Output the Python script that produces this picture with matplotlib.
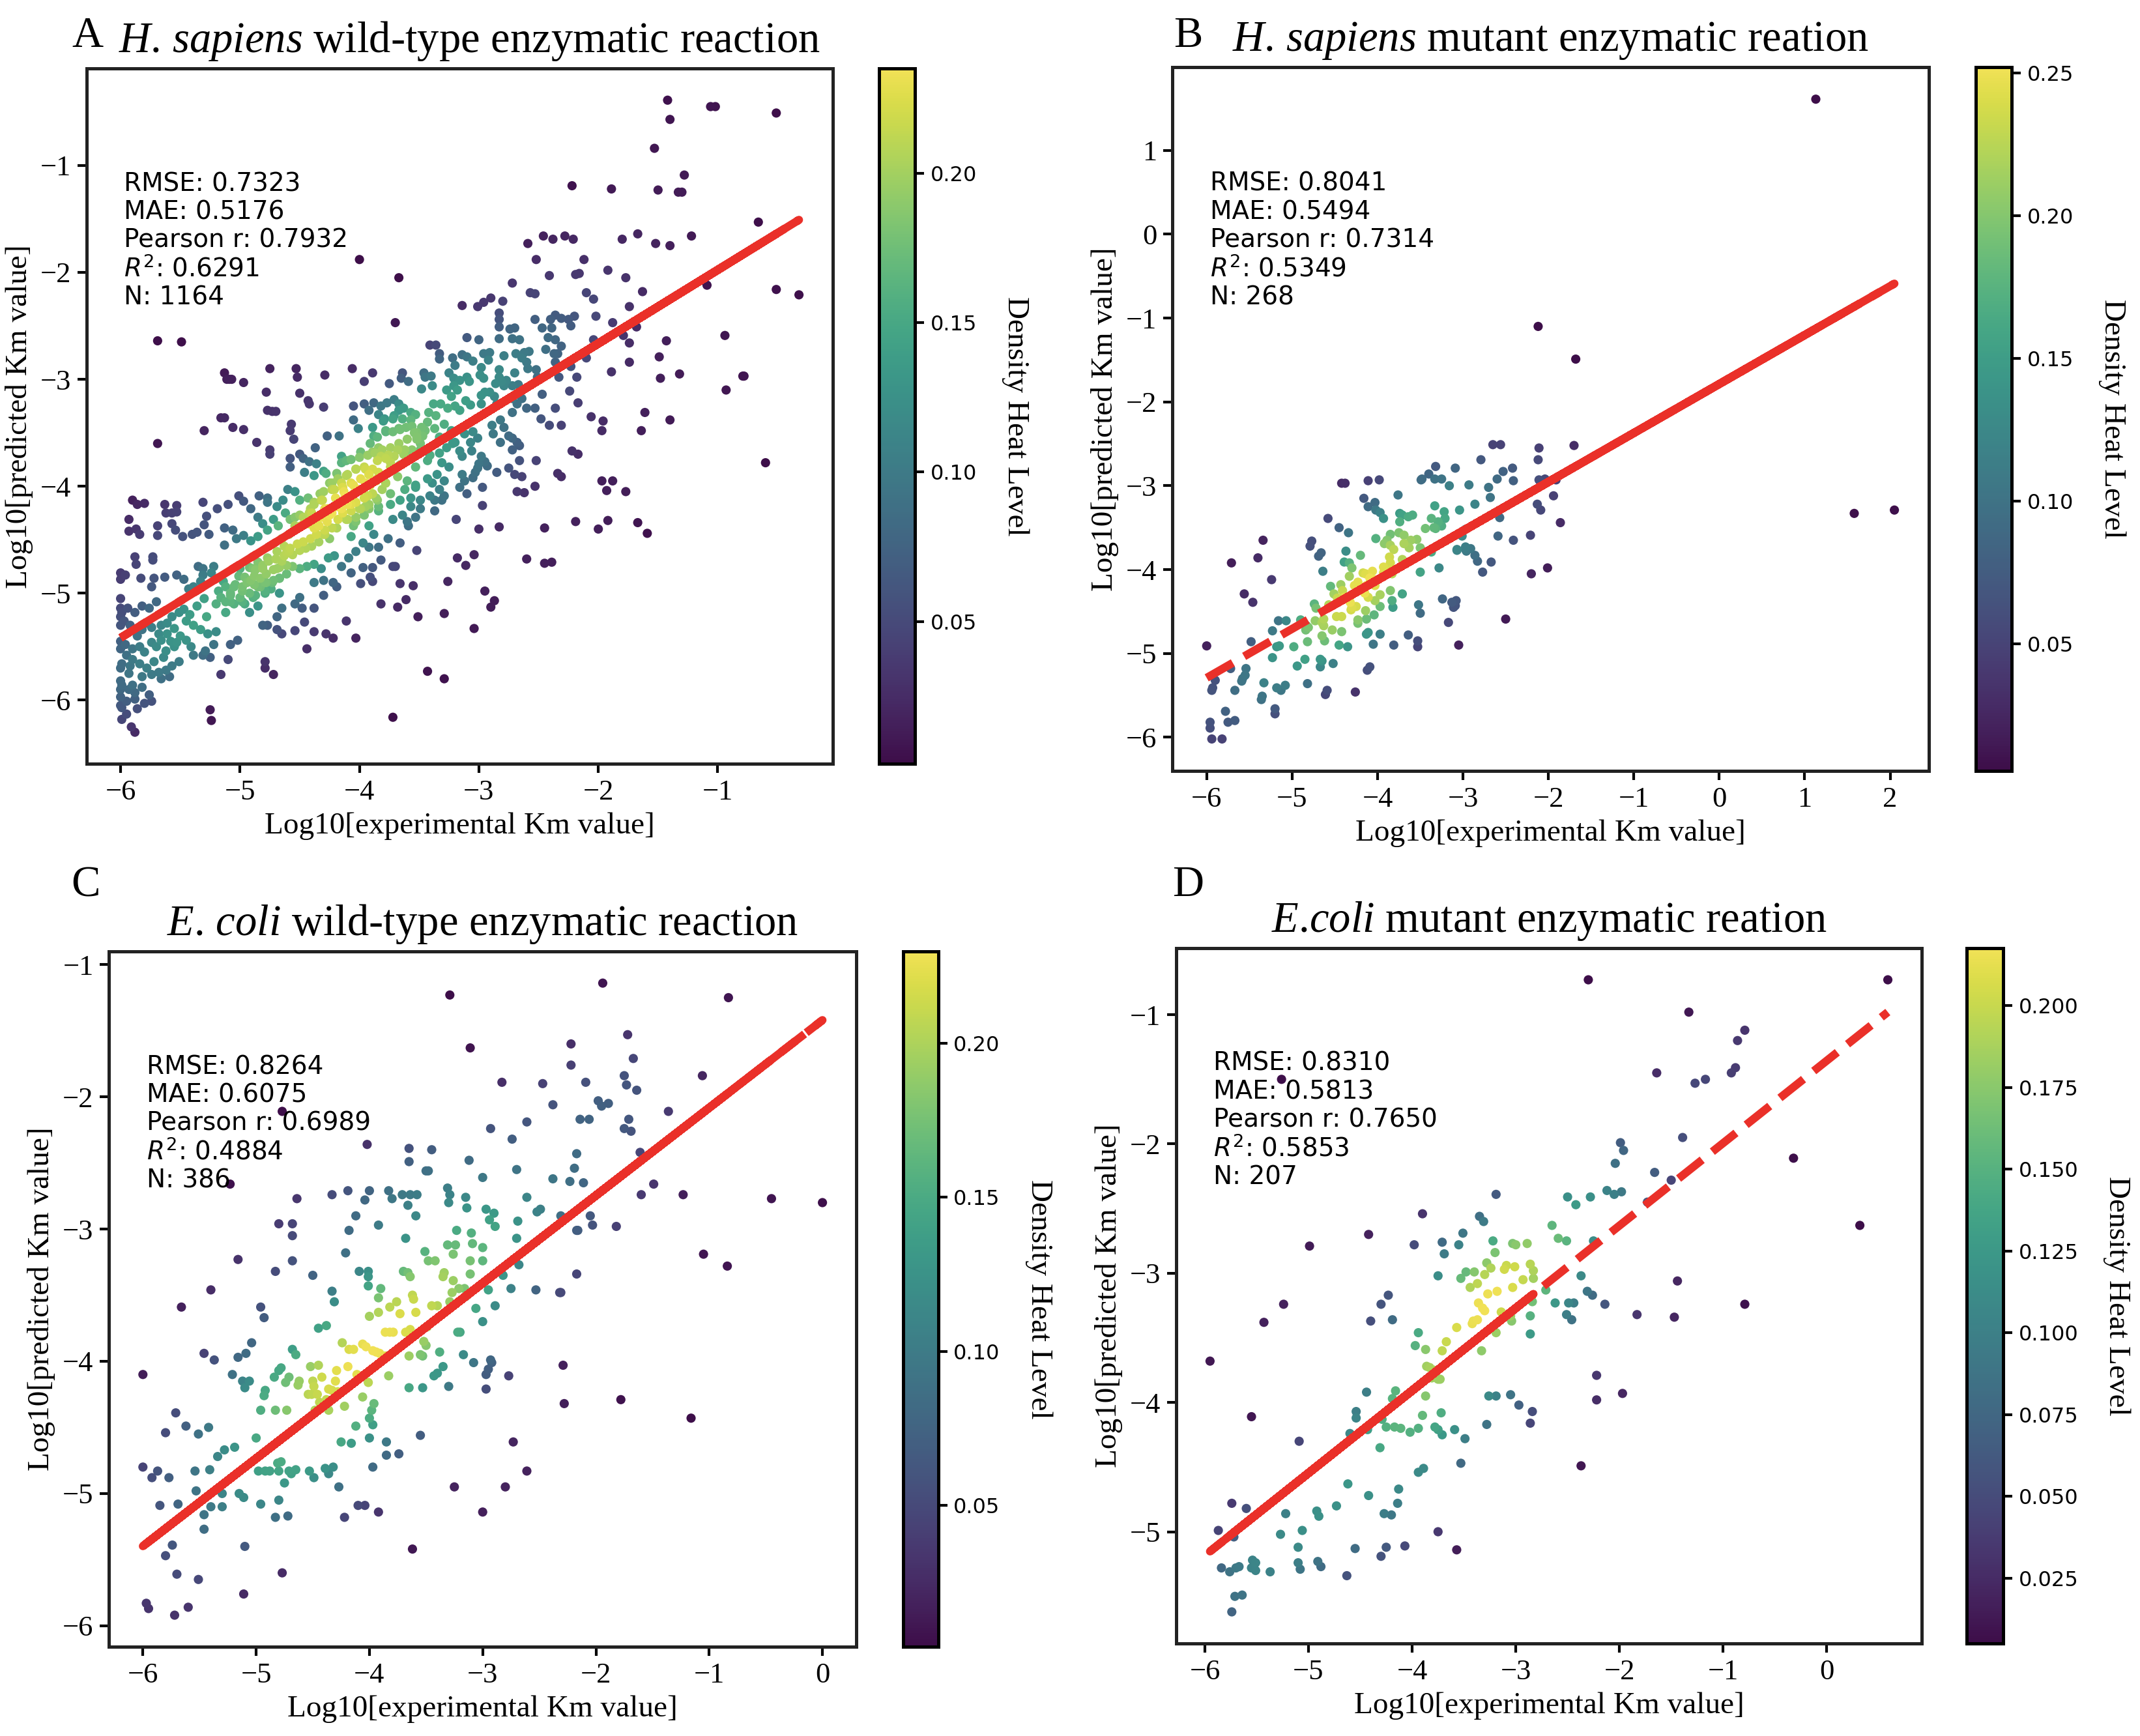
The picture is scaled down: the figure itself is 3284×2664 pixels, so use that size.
import numpy as np
import matplotlib
matplotlib.use("Agg")
import matplotlib.pyplot as plt
from matplotlib.colors import ListedColormap

# ---- data (log10 experimental Km, log10 predicted Km) ----
a_points = [
    (-1.42, -0.39), (-1.06, -0.45), (-1.02, -0.45), (-0.51, -0.51), (-1.40, -0.57), (-1.53, -0.84), (-1.28, -1.09),
    (-2.22, -1.19), (-1.89, -1.22), (-1.50, -1.23), (-1.33, -1.25), (-1.30, -1.25), (-0.66, -1.53), (-1.22, -1.66),
    (-1.67, -1.64), (-1.80, -1.69), (-1.52, -1.73), (-1.40, -1.75), (-2.59, -1.73), (-2.46, -1.66), (-2.38, -1.69),
    (-2.28, -1.66), (-2.21, -1.69), (-4.00, -1.88), (-0.51, -2.16), (-0.32, -2.21), (-0.79, -2.97), (-0.78, -2.97),
    (-0.60, -3.78),
    (-5.69, -2.64), (-5.49, -2.65), (-5.13, -2.94), (-5.11, -3.00), (-5.09, -3.00), (-5.07, -3.00), (-4.75, -2.90),
    (-4.53, -2.90), (-4.52, -2.98), (-4.29, -2.96), (-4.06, -2.90), (-4.97, -3.03), (-4.78, -3.12), (-4.50, -3.13),
    (-4.05, -3.25), (-4.30, -3.26), (-4.77, -3.29), (-4.73, -3.30), (-4.70, -3.30), (-4.43, -3.20), (-4.42, -3.23),
    (-5.16, -3.36), (-5.13, -3.36), (-5.06, -3.45), (-5.30, -3.48), (-5.69, -3.60), (-4.86, -3.59),
    (-4.97, -3.47), (-4.57, -3.42), (-4.58, -3.48), (-4.55, -3.56), (-4.05, -3.38), (-4.01, -3.46), (-4.27, -3.53),
    (-4.17, -3.53), (-3.89, -3.45), (-3.88, -3.53), (-3.80, -3.39), (-3.72, -3.37), (-3.64, -3.37), (-3.57, -3.38),
    (-3.78, -3.49), (-3.72, -3.49), (-3.66, -3.47), (-3.61, -3.45), (-3.54, -3.50), (-3.48, -3.45), (-3.43, -3.40),
    (-3.37, -3.46), (-3.29, -3.42), (-3.23, -3.48), (-3.52, -3.56), (-3.47, -3.53), (-3.33, -3.54),
    (-4.75, -3.66), (-4.75, -3.70), (-4.37, -3.64), (-4.50, -3.70), (-4.47, -3.74), (-4.58, -3.74), (-4.58, -3.82),
    (-4.42, -3.77), (-4.36, -3.79), (-4.30, -3.86), (-4.28, -3.88), (-4.46, -3.87), (-4.38, -3.90),
    (-4.15, -3.72), (-4.11, -3.76), (-3.99, -3.68), (-3.93, -3.71), (-3.87, -3.69), (-3.84, -3.64), (-4.15, -3.78),
    (-4.07, -3.75), (-4.00, -3.73), (-3.82, -3.72), (-3.76, -3.71), (-3.68, -3.66), (-3.62, -3.66), (-3.57, -3.69),
    (-3.49, -3.66), (-3.41, -3.71), (-3.33, -3.69), (-3.27, -3.64), (-3.22, -3.60),
    (-4.19, -3.88), (-4.11, -3.90), (-4.03, -3.84), (-3.95, -3.84), (-3.92, -3.89), (-3.84, -3.87), (-3.74, -3.82),
    (-3.66, -3.80), (-3.53, -3.82), (-3.43, -3.76), (-3.31, -3.78), (-3.25, -3.82),
    (-4.15, -3.97), (-4.05, -3.99), (-3.95, -3.97), (-3.86, -3.95), (-3.78, -3.97), (-3.68, -3.91), (-3.60, -3.95),
    (-3.53, -3.99), (-3.43, -3.93), (-3.35, -3.89), (-3.29, -3.95),
    (-3.62, -4.03), (-3.53, -4.01), (-3.39, -3.97), (-3.33, -4.03), (-3.41, -4.09), (-3.37, -4.13), (-3.29, -4.09),
    (-3.37, -4.23), (-3.31, -4.13),
    (-4.23, -4.03), (-4.13, -4.05), (-4.01, -4.03), (-3.93, -4.09), (-3.86, -4.11), (-3.74, -4.07), (-3.66, -4.13),
    (-3.57, -4.11), (-3.49, -4.13), (-3.84, -4.19), (-3.74, -4.17), (-3.95, -4.19), (-3.57, -4.19), (-3.49, -4.21),
    (-3.64, -4.27), (-3.53, -4.29), (-3.60, -4.33), (-3.72, -4.31), (-4.23, -3.97),
    (-5.90, -4.13), (-5.86, -4.17), (-5.80, -4.16), (-5.93, -4.31), (-5.93, -4.42), (-5.87, -4.40), (-5.84, -4.45),
    (-5.88, -4.66), (-5.87, -4.73), (-5.73, -4.66), (-5.73, -4.69),
    (-5.63, -4.17), (-5.53, -4.18), (-5.57, -4.25), (-5.53, -4.24), (-5.62, -4.25),
    (-5.69, -4.37), (-5.57, -4.35), (-5.54, -4.41), (-5.69, -4.46), (-5.48, -4.47), (-5.40, -4.45), (-5.36, -4.43),
    (-5.31, -4.15), (-5.19, -4.21), (-5.28, -4.28), (-5.30, -4.36), (-5.26, -4.45), (-5.13, -4.39), (-5.10, -4.17),
    (-5.01, -4.09), (-4.97, -4.14), (-4.91, -4.21), (-4.84, -4.09), (-4.77, -4.11), (-4.85, -4.29), (-4.77, -4.15),
    (-5.13, -4.55), (-5.06, -4.41), (-5.03, -4.49), (-4.97, -4.46), (-4.91, -4.51), (-4.85, -4.47), (-4.81, -4.35),
    (-4.77, -4.41), (-4.72, -4.31), (-4.68, -4.37),
    (-4.69, -4.19), (-4.64, -4.13), (-4.60, -4.03), (-4.54, -4.05), (-4.50, -4.13), (-4.43, -4.11), (-4.38, -4.15),
    (-4.33, -4.07), (-4.31, -4.13),
    (-4.62, -4.25), (-4.58, -4.31), (-4.54, -4.37), (-4.50, -4.27), (-4.46, -4.35), (-4.42, -4.25), (-4.38, -4.31),
    (-4.34, -4.37), (-4.31, -4.27), (-4.27, -4.21), (-4.23, -4.25), (-4.19, -4.17), (-4.15, -4.21), (-4.11, -4.13),
    (-4.07, -4.17),
    (-4.29, -4.45), (-4.25, -4.49), (-4.19, -4.39), (-4.11, -4.31), (-4.03, -4.33), (-3.96, -4.27), (-3.92, -4.21),
    (-3.84, -4.23), (-4.00, -4.21), (-4.07, -4.47), (-3.97, -4.53),
    (-4.05, -4.37), (-3.92, -4.37), (-3.88, -4.45), (-3.84, -4.57), (-3.92, -4.57), (-3.76, -4.49), (-3.66, -4.53),
    (-6.00, -4.81), (-5.96, -4.83), (-6.00, -4.87), (-5.83, -4.86), (-5.72, -4.86), (-5.74, -4.94), (-5.63, -4.85),
    (-5.53, -4.83), (-5.47, -4.87), (-5.43, -4.96), (-5.39, -4.94), (-5.35, -4.75), (-5.31, -4.77), (-5.31, -4.83),
    (-5.33, -4.89),
    (-5.22, -4.75), (-5.24, -4.81), (-5.14, -4.89), (-5.12, -4.94), (-5.08, -5.00), (-5.00, -4.77), (-4.96, -4.85),
    (-4.89, -4.77), (-4.85, -4.71), (-4.81, -4.77), (-4.77, -4.67), (-4.69, -4.77), (-4.63, -4.65), (-4.59, -4.61),
    (-4.69, -4.61),
    (-5.04, -4.92), (-4.98, -4.94), (-4.91, -4.88), (-4.85, -4.94), (-4.79, -4.90), (-4.73, -4.90), (-4.67, -4.86),
    (-4.61, -4.82), (-4.56, -4.75), (-4.50, -4.77), (-4.44, -4.75), (-4.38, -4.73), (-4.32, -4.77), (-4.26, -4.67),
    (-4.21, -4.65), (-4.15, -4.75), (-4.09, -4.67), (-4.03, -4.61),
    (-5.16, -5.04), (-5.08, -5.08), (-5.00, -5.04), (-4.96, -5.10), (-4.89, -5.04), (-4.85, -5.12), (-4.92, -5.18),
    (-4.79, -4.98), (-4.67, -5.00), (-4.65, -5.14), (-4.69, -5.22), (-4.50, -5.04), (-4.38, -4.90), (-4.30, -4.88),
    (-4.22, -4.90), (-4.19, -4.94), (-4.54, -5.10), (-4.48, -5.14),
    (-4.38, -5.14), (-4.30, -5.02), (-4.07, -4.81), (-3.97, -4.76), (-3.89, -4.76), (-3.91, -4.85), (-3.89, -4.89),
    (-3.99, -4.91),
    (-3.72, -4.75), (-3.70, -4.75), (-3.66, -4.91), (-3.61, -5.06), (-3.55, -4.93), (-3.51, -5.22), (-3.29, -5.19),
    (-3.82, -5.10), (-3.68, -5.13), (-4.11, -5.26), (-4.03, -5.42), (-4.22, -5.42), (-4.44, -5.52), (-3.82, -4.69),
    (-4.46, -5.27), (-4.38, -5.36), (-4.28, -5.38), (-4.77, -5.30), (-4.69, -5.34), (-4.65, -5.38), (-4.81, -5.30),
    (-5.08, -5.48), (-5.02, -5.44), (-5.10, -5.62),
    (-6.00, -5.14), (-5.99, -5.18), (-5.94, -5.14), (-5.88, -5.18), (-5.82, -5.12), (-5.76, -5.14), (-5.70, -5.08),
    (-5.97, -5.26), (-5.92, -5.30), (-5.82, -5.34), (-5.74, -5.32), (-5.66, -5.30), (-5.61, -5.28), (-5.57, -5.22),
    (-5.51, -5.18), (-5.45, -5.26), (-5.39, -5.30), (-5.33, -5.34), (-5.27, -5.38), (-5.20, -5.36),
    (-5.96, -5.48), (-5.90, -5.52), (-5.84, -5.50), (-5.74, -5.46), (-5.66, -5.44), (-5.61, -5.38), (-5.55, -5.50),
    (-5.62, -5.54), (-5.53, -5.46), (-5.45, -5.44), (-5.41, -5.50), (-5.39, -5.58), (-5.29, -5.54), (-5.22, -5.48),
    (-5.31, -5.58), (-5.25, -5.60),
    (-5.99, -5.66), (-5.92, -5.68), (-5.84, -5.66), (-5.78, -5.70), (-5.72, -5.64), (-5.68, -5.74), (-5.62, -5.72),
    (-5.57, -5.68), (-5.51, -5.64), (-5.59, -5.78), (-5.66, -5.80), (-5.74, -5.76), (-5.82, -5.78),
    (-5.99, -5.86), (-5.93, -5.90), (-5.88, -5.93), (-5.82, -5.88), (-5.76, -5.95), (-6.00, -5.97), (-5.95, -6.01),
    (-5.88, -5.99), (-5.80, -6.03), (-5.74, -6.01), (-5.99, -6.07), (-5.86, -6.08), (-5.95, -6.13), (-5.99, -6.18),
    (-5.91, -6.25), (-5.88, -6.30),
    (-5.25, -6.09), (-5.24, -6.19), (-4.79, -5.64), (-4.79, -5.70), (-4.72, -5.76), (-5.16, -5.76), (-3.43, -5.73),
    (-3.29, -5.80), (-3.72, -6.16), (-4.54, -5.35),
    (-6.00, -5.05), (-6.00, -5.22), (-6.00, -5.30), (-6.00, -5.45), (-6.00, -5.52), (-6.00, -5.70), (-6.00, -5.82),
    (-6.00, -5.90), (-6.00, -6.05), (-5.95, -5.58), (-5.93, -5.75), (-5.90, -5.62), (-5.86, -5.40), (-5.80, -5.55),
    (-5.78, -5.28), (-5.70, -5.50), (-5.68, -5.38), (-5.64, -5.60), (-5.58, -5.45), (-5.55, -5.33), (-5.50, -5.40),
    (-5.47, -5.15), (-5.42, -5.20), (-5.36, -5.12), (-5.30, -5.05), (-5.28, -5.22), (-5.20, -5.10), (-5.18, -4.98),
    (-5.12, -5.18), (-5.90, -5.86),
    (-4.63, -4.56), (-4.58, -4.58), (-4.52, -4.54), (-4.47, -4.52), (-4.41, -4.49), (-4.36, -4.45), (-4.61, -4.62),
    (-4.56, -4.64), (-4.50, -4.60), (-4.45, -4.58), (-4.40, -4.56), (-4.34, -4.52), (-4.30, -4.45), (-4.38, -4.39),
    (-4.43, -4.35), (-4.49, -4.37), (-4.54, -4.41), (-4.59, -4.45), (-4.65, -4.49), (-4.54, -4.29), (-4.47, -4.29),
    (-4.40, -4.25), (-4.32, -4.29), (-4.27, -4.33), (-4.34, -4.37), (-4.29, -4.41), (-4.23, -4.39),
    (-4.21, -4.03), (-4.14, -4.01), (-4.07, -3.97), (-3.99, -3.93), (-3.92, -3.89), (-4.20, -4.11), (-4.12, -4.09),
    (-4.05, -4.07), (-3.98, -4.03), (-3.91, -3.99), (-4.18, -4.19), (-4.10, -4.17), (-4.03, -4.15), (-3.96, -4.11),
    (-3.89, -4.07), (-4.14, -4.25), (-4.07, -4.23), (-3.99, -4.21), (-3.92, -4.17), (-3.85, -4.13), (-4.25, -4.27),
    (-4.18, -4.31), (-4.10, -4.31), (-4.03, -4.29), (-3.81, -4.03), (-3.78, -3.97), (-3.85, -3.93), (-3.89, -3.84),
    (-3.96, -3.82), (-4.03, -3.84), (-4.10, -3.89), (-4.18, -3.93), (-4.25, -3.97), (-4.30, -4.05), (-4.32, -4.13),
    (-4.38, -4.17), (-4.41, -4.21), (-4.29, -4.21),
    (-4.92, -4.76), (-4.87, -4.78), (-4.81, -4.74), (-4.76, -4.70), (-4.70, -4.68), (-4.65, -4.70), (-4.88, -4.84),
    (-4.83, -4.86), (-4.78, -4.82), (-4.72, -4.78), (-4.67, -4.76), (-4.61, -4.74), (-4.94, -4.90), (-4.88, -4.92),
    (-4.83, -4.94), (-4.78, -4.90), (-4.72, -4.88), (-4.67, -4.86), (-4.98, -4.98), (-4.92, -5.00), (-4.87, -5.02),
    (-4.79, -5.00), (-4.74, -4.96), (-5.01, -4.84), (-5.05, -4.94), (-5.08, -5.02), (-5.12, -5.08), (-5.05, -5.10),
    (-4.98, -5.08),
    (-3.89, -3.68), (-3.81, -3.66), (-3.74, -3.64), (-3.67, -3.60), (-3.60, -3.56), (-3.52, -3.50), (-3.78, -3.74),
    (-3.71, -3.72), (-3.63, -3.70), (-3.56, -3.66), (-3.49, -3.60), (-3.85, -3.76), (-3.74, -3.78), (-3.61, -3.76),
    (-3.52, -3.54), (-3.45, -3.48), (-3.56, -3.44), (-3.67, -3.46), (-3.78, -3.48), (-3.85, -3.54), (-3.91, -3.60),
    (-3.67, -2.05), (-3.70, -2.47), (-2.52, -1.88), (-2.41, -2.03), (-2.19, -2.02), (-2.16, -2.01), (-2.12, -1.88),
    (-1.92, -1.98), (-1.77, -2.05), (-2.72, -2.10), (-2.57, -2.19), (-2.53, -2.20), (-2.10, -2.19), (-2.04, -2.25),
    (-1.63, -2.18), (-1.74, -2.32), (-1.09, -2.12), (-3.14, -2.31), (-3.01, -2.32), (-2.96, -2.28), (-2.90, -2.24),
    (-2.80, -2.27),
    (-2.83, -2.38), (-2.83, -2.44), (-2.83, -2.51), (-2.74, -2.53), (-2.70, -2.52), (-2.53, -2.44), (-2.47, -2.52),
    (-2.40, -2.44), (-2.36, -2.40), (-2.31, -2.43), (-2.25, -2.44), (-2.20, -2.41), (-2.23, -2.50), (-2.39, -2.52),
    (-2.02, -2.41), (-1.88, -2.47), (-1.68, -2.51), (-1.79, -2.59), (-1.74, -2.66), (-2.04, -2.63), (-1.43, -2.64),
    (-0.94, -2.59), (-1.49, -2.79), (-1.74, -2.84), (-1.89, -2.93), (-1.48, -2.99), (-1.32, -2.95), (-0.93, -3.10),
    (-2.10, -2.80),
    (-3.10, -2.61), (-3.00, -2.63), (-2.83, -2.62), (-2.72, -2.62), (-2.66, -2.63), (-2.42, -2.61), (-2.36, -2.63),
    (-2.44, -2.72), (-2.31, -2.69), (-2.37, -2.76), (-2.34, -2.76), (-2.36, -2.84), (-2.33, -2.98), (-2.23, -2.88),
    (-2.18, -2.98), (-2.24, -3.11), (-2.17, -3.22),
    (-3.41, -2.68), (-3.36, -2.68), (-3.33, -2.76), (-3.33, -2.81), (-3.22, -2.80), (-3.14, -2.77), (-3.10, -2.79),
    (-3.05, -2.83), (-2.96, -2.76), (-2.91, -2.75), (-2.92, -2.82), (-2.79, -2.78), (-2.69, -2.76), (-2.62, -2.75),
    (-2.58, -2.74), (-2.64, -2.80), (-2.60, -2.84), (-2.59, -2.90), (-2.52, -2.91), (-2.51, -2.98), (-2.70, -2.94),
    (-2.83, -2.91), (-2.83, -2.98), (-2.98, -2.89), (-2.99, -2.96), (-2.96, -2.99), (-3.25, -2.94), (-3.20, -2.87),
    (-3.21, -2.99), (-3.16, -3.01), (-3.10, -2.98), (-3.08, -3.02),
    (-3.89, -2.94), (-3.96, -3.02), (-3.75, -3.04), (-3.65, -2.99), (-3.59, -3.02), (-3.64, -2.94), (-3.46, -2.94),
    (-3.45, -2.98), (-3.40, -2.97), (-3.48, -3.09), (-3.39, -3.06), (-3.27, -3.10), (-3.23, -3.16), (-3.21, -3.06),
    (-3.18, -3.10), (-3.11, -3.20), (-3.07, -3.24), (-2.98, -3.15), (-2.95, -3.12), (-2.98, -3.23), (-2.91, -3.12),
    (-2.87, -3.16), (-2.86, -3.04), (-2.81, -3.02), (-2.77, -3.01), (-2.85, -3.23), (-2.79, -3.06), (-2.72, -3.06),
    (-2.67, -3.05), (-2.72, -3.18), (-2.72, -3.31), (-2.68, -3.23), (-2.64, -3.18), (-2.60, -3.27), (-2.53, -3.27),
    (-2.47, -3.14), (-2.48, -3.37), (-2.41, -3.43), (-2.31, -3.43), (-2.36, -3.27),
    (-3.96, -3.23), (-3.88, -3.22), (-3.82, -3.25), (-3.77, -3.22), (-3.71, -3.19), (-3.67, -3.23), (-3.92, -3.29),
    (-3.84, -3.33), (-3.79, -3.37), (-3.71, -3.34), (-3.67, -3.29), (-3.57, -3.31), (-3.53, -3.33), (-3.63, -3.27),
    (-3.38, -3.23), (-3.32, -3.23), (-3.26, -3.27), (-3.20, -3.25), (-3.16, -3.29), (-3.42, -3.31), (-3.36, -3.34),
    (-3.12, -3.51), (-3.05, -3.49), (-3.01, -3.55), (-3.07, -3.59), (-3.20, -3.59), (-3.16, -3.67), (-3.14, -3.72),
    (-3.06, -3.67), (-2.89, -3.43), (-2.88, -3.51), (-2.82, -3.38), (-2.79, -3.45), (-2.75, -3.53), (-2.72, -3.55),
    (-2.68, -3.59), (-2.82, -3.59), (-2.66, -3.62), (-2.72, -3.66), (-2.98, -3.72), (-2.95, -3.77), (-3.00, -3.79),
    (-2.93, -3.81), (-3.01, -3.83), (-3.03, -3.87), (-3.14, -3.89), (-3.12, -3.95), (-3.05, -3.92), (-3.16, -4.01),
    (-3.10, -4.07), (-2.97, -4.01), (-2.97, -4.18), (-2.85, -3.87), (-2.75, -3.83), (-2.70, -3.89), (-2.64, -3.91),
    (-2.66, -3.76), (-2.52, -3.76), (-2.68, -4.05), (-2.62, -4.06), (-2.53, -4.00), (-2.34, -3.88), (-2.31, -3.91),
    (-2.22, -3.67), (-2.17, -3.70), (-3.19, -4.31), (-3.00, -4.40), (-2.83, -4.38), (-2.45, -4.39), (-2.19, -4.33),
    (-2.00, -4.40), (-1.92, -4.32), (-1.67, -4.34), (-1.59, -4.44), (-1.96, -3.39), (-1.97, -3.48), (-2.06, -3.35),
    (-1.61, -3.31), (-1.40, -3.38), (-1.64, -3.48), (-1.97, -3.95), (-1.88, -3.95), (-1.93, -4.04), (-1.77, -4.05),
    (-3.52, -4.60), (-3.18, -4.67), (-3.04, -4.64), (-3.11, -4.74), (-2.60, -4.68), (-2.45, -4.72), (-2.39, -4.71),
    (-3.26, -4.89), (-3.59, -4.37), (-2.95, -4.98), (-2.87, -5.07), (-2.90, -5.13), (-3.04, -5.33),
]

b_points = [
    (1.13, 1.61), (-2.12, -1.10), (-1.68, -1.49), (1.58, -3.33), (2.05, -3.29), (-2.65, -2.51), (-2.56, -2.51),
    (-1.70, -2.52), (-2.11, -2.55), (-2.12, -2.69), (-2.79, -2.69), (-3.32, -2.77), (-3.40, -2.86), (-3.48, -2.92),
    (-3.49, -2.93), (-3.09, -2.79), (-2.53, -2.83), (-2.42, -2.79), (-4.42, -2.97), (-4.38, -2.97), (-4.11, -2.94),
    (-3.98, -2.93), (-3.33, -2.92), (-3.25, -2.92), (-2.93, -2.99), (-2.60, -2.92), (-2.41, -2.94), (-2.11, -2.93),
    (-2.04, -2.92), (-1.91, -2.93), (-1.94, -3.12), (-2.70, -3.02), (-3.76, -3.11), (-4.16, -3.15), (-3.16, -3.00),
    (-4.03, -3.20), (-2.13, -3.22), (-2.09, -3.29), (-1.86, -3.44), (-4.11, -3.25), (-4.02, -3.29), (-3.97, -3.32),
    (-3.93, -3.39), (-3.33, -3.24), (-3.22, -3.31), (-3.21, -3.39), (-3.04, -3.29), (-2.86, -3.22), (-2.68, -3.14),
    (-3.74, -3.33), (-3.71, -3.35), (-3.64, -3.37), (-3.59, -3.35), (-3.74, -3.43), (-3.37, -3.39), (-3.34, -3.50),
    (-3.29, -3.43), (-3.25, -3.48), (-3.44, -3.51), (-3.32, -3.51), (-4.58, -3.39), (-4.45, -3.50), (-4.34, -3.56),
    (-2.57, -3.38), (-2.59, -3.60), (-2.21, -3.59), (-2.41, -3.65), (-2.97, -3.52), (-3.01, -3.60), (-2.97, -3.73),
    (-2.91, -3.75), (-2.86, -3.83), (-2.83, -3.90), (-2.96, -3.78), (-2.67, -3.91), (-2.77, -4.03), (-3.07, -3.76),
    (-3.85, -3.58), (-3.75, -3.56), (-3.69, -3.59), (-3.61, -3.65), (-3.54, -3.64), (-3.85, -3.71), (-3.81, -3.76),
    (-3.69, -3.69), (-3.89, -3.65), (-3.92, -3.69), (-4.02, -3.63), (-3.63, -3.74), (-3.50, -3.74), (-3.37, -3.79),
    (-3.28, -3.98), (-3.50, -4.03), (-3.86, -3.85), (-3.85, -3.92), (-3.71, -3.88), (-3.93, -3.97), (-3.88, -4.00),
    (-3.93, -4.04), (-3.83, -4.05), (-4.06, -4.02), (-4.17, -4.04), (-4.14, -4.05), (-4.20, -3.83), (-4.37, -3.78),
    (-4.33, -3.92), (-4.30, -3.98), (-4.09, -4.10), (-4.05, -4.12), (-4.03, -4.19), (-4.13, -4.19), (-4.23, -4.15),
    (-4.27, -4.19), (-4.33, -4.08), (-4.77, -3.66), (-4.79, -3.72), (-4.66, -3.80), (-4.69, -3.84), (-4.64, -4.02),
    (-4.39, -3.91), (-4.55, -4.20), (-4.43, -4.18), (-4.41, -4.25), (-4.15, -4.28), (-4.11, -4.33), (-3.97, -4.30),
    (-3.85, -4.25), (-3.71, -4.29), (-3.97, -4.44), (-3.83, -4.37), (-4.03, -4.37), (-4.51, -4.29), (-4.47, -4.34),
    (-4.39, -4.33), (-4.32, -4.39), (-4.30, -4.45), (-4.25, -4.44), (-4.31, -4.48), (-4.42, -4.56), (-4.57, -4.42),
    (-4.74, -4.41), (-4.72, -4.46), (-4.14, -4.49), (-4.13, -4.59), (-4.23, -4.60), (-4.23, -4.64), (-4.04, -4.54),
    (-3.82, -4.45), (-3.52, -4.42), (-3.50, -4.52), (-3.24, -4.35), (-3.13, -4.39), (-3.08, -4.37), (-3.09, -4.43),
    (-3.11, -4.45), (-3.17, -4.63), (-2.50, -4.59), (-2.20, -4.05), (-2.01, -3.98), (-4.73, -4.61), (-4.65, -4.63),
    (-4.63, -4.59), (-4.48, -4.56), (-4.83, -4.67), (-4.81, -4.69), (-4.84, -4.72), (-4.63, -4.67), (-4.65, -4.79),
    (-4.53, -4.72), (-4.42, -4.74), (-4.45, -4.90), (-4.13, -4.77), (-4.11, -4.75), (-3.97, -4.77), (-4.05, -4.89),
    (-4.35, -4.92), (-4.62, -4.85), (-4.82, -4.86), (-4.90, -4.60), (-5.16, -4.61), (-5.07, -4.61), (-5.23, -4.73),
    (-4.98, -4.92), (-5.18, -4.92), (-5.15, -4.91), (-5.48, -4.86), (-5.23, -5.05), (-4.94, -5.15), (-4.85, -5.07),
    (-4.82, -5.36), (-4.67, -5.07), (-4.65, -5.09), (-4.67, -5.16), (-4.52, -5.12), (-4.61, -5.49), (-4.59, -5.44),
    (-4.26, -5.46), (-4.09, -5.16), (-4.12, -5.20), (-3.53, -4.92), (-3.53, -4.85), (-3.64, -4.78), (-3.05, -4.90),
    (-3.81, -4.90), (-6.00, -4.91), (-5.72, -5.18), (-5.90, -5.32), (-5.94, -5.44), (-5.93, -5.41), (-5.67, -5.44),
    (-5.55, -5.26), (-5.54, -5.18), (-5.58, -5.30), (-5.59, -5.33), (-5.33, -5.35), (-5.35, -5.51), (-5.36, -5.55),
    (-5.20, -5.66), (-5.20, -5.72), (-5.18, -5.41), (-5.13, -5.44), (-5.08, -5.38), (-5.78, -5.69), (-5.75, -5.82),
    (-5.67, -5.80), (-5.96, -5.82), (-5.96, -5.89), (-5.94, -6.02), (-5.82, -6.02), (-5.34, -3.65), (-5.40, -3.86),
    (-5.71, -3.92), (-5.24, -4.12), (-5.56, -4.29), (-5.46, -4.39), (-2.97, -3.76), (-3.07, -3.77),
]

c_points = [
    (-1.94, -1.14), (-3.29, -1.23), (-0.83, -1.25), (-1.72, -1.53), (-3.11, -1.63), (-2.22, -1.60), (-1.67, -1.71),
    (-2.22, -1.76), (-1.75, -1.84), (-1.73, -1.91), (-1.06, -1.84), (-1.64, -1.95), (-2.83, -1.89), (-2.47, -1.90),
    (-2.09, -1.89), (-1.98, -2.03), (-1.95, -2.07), (-1.89, -2.05), (-2.38, -2.06), (-1.36, -2.11), (-4.77, -2.11),
    (-2.14, -2.17), (-2.06, -2.17), (-1.71, -2.17), (-2.61, -2.19), (-2.93, -2.24), (-1.75, -2.24), (-1.69, -2.26),
    (-2.74, -2.32), (-4.02, -2.36), (-3.65, -2.39), (-3.45, -2.40), (-1.61, -2.42), (-3.12, -2.48), (-3.65, -2.49),
    (-2.17, -2.43), (-3.50, -2.56), (-3.48, -2.56), (-2.70, -2.55), (-2.19, -2.54), (-3.00, -2.61), (-2.38, -2.62),
    (-1.49, -2.66), (-5.23, -2.66), (-1.23, -2.74), (-0.45, -2.77), (0.00, -2.80), (-1.60, -2.74), (-2.23, -2.64),
    (-2.11, -2.65), (-4.19, -2.71), (-4.33, -2.74), (-4.64, -2.77), (-4.00, -2.71), (-4.04, -2.78), (-3.83, -2.71),
    (-3.80, -2.77), (-3.71, -2.74), (-3.64, -2.74), (-3.58, -2.74), (-3.66, -2.82), (-3.59, -2.90), (-3.31, -2.69),
    (-3.29, -2.74), (-3.30, -2.80), (-3.15, -2.76), (-3.14, -2.84), (-2.61, -2.76), (-2.49, -2.85), (-2.52, -2.87),
    (-2.97, -2.85), (-2.90, -2.88), (-2.94, -2.93), (-2.89, -2.98), (-2.69, -2.94), (-2.31, -2.90), (-2.05, -2.90),
    (-2.03, -2.97), (-2.17, -3.01), (-2.16, -3.01), (-1.82, -2.98), (-4.12, -2.90), (-3.92, -2.97), (-4.18, -3.01),
    (-4.80, -2.96), (-4.68, -2.96), (-4.68, -3.05), (-3.23, -3.01), (-3.10, -3.03), (-3.09, -3.11), (-2.70, -3.07),
    (-4.21, -3.18), (-3.68, -3.07), (-3.51, -3.17), (-3.31, -3.12), (-3.24, -3.12), (-3.00, -3.14), (-5.16, -3.23),
    (-4.68, -3.24), (-3.48, -3.24), (-3.42, -3.24), (-3.26, -3.19), (-3.11, -3.24), (-3.00, -3.24), (-2.68, -3.27),
    (-2.82, -3.35), (-2.95, -3.46), (-2.75, -3.45), (-2.53, -3.46), (-2.31, -3.48), (-2.17, -3.34), (-4.83, -3.32),
    (-4.50, -3.35), (-4.09, -3.32), (-4.01, -3.32), (-4.01, -3.36), (-4.01, -3.43), (-3.90, -3.45), (-3.70, -3.32),
    (-3.66, -3.33), (-3.64, -3.36), (-3.34, -3.33), (-3.35, -3.36), (-3.26, -3.39), (-3.21, -3.45), (-3.16, -3.45),
    (-3.15, -3.51), (-3.11, -3.34), (-5.40, -3.46), (-4.33, -3.47), (-4.31, -3.55), (-3.92, -3.52), (-3.76, -3.55),
    (-3.62, -3.50), (-3.61, -3.53), (-3.45, -3.58), (-3.40, -3.58), (-3.29, -3.55), (-3.27, -3.48), (-5.66, -3.59),
    (-4.96, -3.59), (-4.93, -3.67), (-4.00, -3.66), (-3.92, -3.63), (-3.82, -3.59), (-3.73, -3.64), (-3.59, -3.63),
    (-3.06, -3.60), (-2.89, -3.58), (-3.00, -3.70), (-4.45, -3.75), (-4.38, -3.73), (-3.86, -3.78), (-3.82, -3.78),
    (-3.79, -3.78), (-3.68, -3.78), (-3.64, -3.76), (-3.49, -3.74), (-3.22, -3.78), (-3.20, -3.78), (-3.52, -3.85),
    (-3.50, -3.88), (-5.46, -3.94), (-5.37, -3.99), (-5.04, -3.86), (-5.09, -3.94), (-5.16, -3.97), (-4.68, -3.91),
    (-4.65, -3.95), (-4.24, -3.86), (-4.18, -3.91), (-4.14, -3.91), (-4.06, -3.87), (-4.03, -3.89), (-3.97, -3.92),
    (-3.94, -3.93), (-3.91, -3.94), (-3.86, -3.96), (-3.65, -3.96), (-3.53, -3.96), (-3.55, -3.95), (-3.38, -3.93),
    (-3.17, -3.95), (-2.93, -3.99), (-2.92, -4.01), (-3.08, -4.01), (-2.29, -4.03), (-2.77, -4.11), (-2.95, -4.06),
    (-2.97, -4.10), (-2.97, -4.21), (-6.00, -4.10), (-5.21, -4.10), (-5.12, -4.15), (-5.10, -4.20), (-5.06, -4.15),
    (-4.92, -4.22), (-4.93, -4.26), (-4.84, -4.12), (-4.80, -4.07), (-4.78, -4.05), (-4.74, -4.16), (-4.71, -4.12),
    (-4.62, -4.15), (-4.63, -4.18), (-4.52, -4.04), (-4.45, -4.03), (-4.50, -4.15), (-4.49, -4.19), (-4.42, -4.12),
    (-4.29, -4.07), (-4.30, -4.15), (-4.36, -4.21), (-4.33, -4.22), (-4.28, -4.23), (-4.19, -4.04), (-4.11, -4.10),
    (-4.04, -4.10), (-4.01, -4.16), (-4.38, -4.29), (-4.36, -4.31), (-4.46, -4.25), (-4.44, -4.31), (-4.54, -4.25),
    (-4.51, -4.25), (-4.48, -4.37), (-4.36, -4.37), (-4.22, -4.34), (-4.06, -4.27), (-3.96, -4.32), (-4.83, -4.37),
    (-4.73, -4.37), (-4.96, -4.37), (-4.12, -4.49), (-3.98, -4.37), (-4.00, -4.43), (-3.97, -4.48), (-3.83, -4.11),
    (-3.65, -4.20), (-3.53, -4.20), (-3.40, -4.09), (-3.43, -4.11), (-3.30, -4.19), (-3.35, -4.04), (-5.80, -4.54),
    (-5.71, -4.39), (-5.62, -4.49), (-5.51, -4.55), (-5.42, -4.50), (-5.00, -4.58), (-5.34, -4.72), (-5.28, -4.67),
    (-5.19, -4.65), (-4.25, -4.61), (-4.16, -4.62), (-4.00, -4.58), (-3.85, -4.61), (-3.85, -4.71), (-3.74, -4.70),
    (-3.55, -4.56), (-3.97, -4.80), (-2.73, -4.61), (-6.00, -4.80), (-5.92, -4.88), (-5.87, -4.83), (-5.77, -4.88),
    (-5.54, -4.83), (-5.41, -4.82), (-4.98, -4.83), (-4.92, -4.83), (-4.88, -4.83), (-4.81, -4.77), (-4.80, -4.83),
    (-4.78, -4.76), (-4.71, -4.83), (-4.69, -4.85), (-4.65, -4.82), (-4.75, -4.92), (-4.53, -4.83), (-4.49, -4.88),
    (-4.39, -4.81), (-4.36, -4.85), (-4.32, -4.80), (-4.27, -4.95), (-5.85, -5.09), (-5.69, -5.08), (-5.53, -4.98),
    (-5.46, -5.16), (-5.46, -5.27), (-5.40, -5.10), (-5.30, -5.00), (-5.30, -5.10), (-5.15, -5.00), (-5.11, -5.03),
    (-4.96, -5.08), (-4.83, -5.18), (-4.72, -5.17), (-4.80, -5.05), (-4.22, -5.18), (-4.10, -5.09), (-4.04, -5.09),
    (-3.92, -5.14), (-3.25, -4.95), (-3.00, -5.14), (-2.80, -4.95), (-2.61, -4.83), (-2.28, -4.32), (-1.78, -4.29),
    (-1.16, -4.43), (-1.05, -3.19), (-0.84, -3.28), (-2.32, -3.48), (-5.74, -5.39), (-5.80, -5.47), (-5.70, -5.61),
    (-5.51, -5.65), (-5.10, -5.40), (-4.77, -5.60), (-5.11, -5.76), (-3.62, -5.42), (-5.97, -5.83), (-5.95, -5.87),
    (-5.72, -5.92), (-5.60, -5.86),
]

d_points = [
    (-2.30, -0.73), (0.59, -0.73), (-1.33, -0.98), (-0.79, -1.12), (-0.86, -1.20), (-1.64, -1.45), (-0.88, -1.41),
    (-0.92, -1.45), (-1.27, -1.53), (-1.17, -1.50), (-5.26, -1.50), (-1.39, -1.95), (-1.99, -1.99), (-1.96, -2.05),
    (-2.04, -2.15), (-1.66, -2.22), (-1.50, -2.28), (-0.32, -2.11), (0.32, -2.63), (-3.19, -2.39), (-2.12, -2.36),
    (-2.05, -2.39), (-1.98, -2.37), (-1.73, -2.45), (-2.50, -2.41), (-2.28, -2.41), (-2.42, -2.47), (-3.90, -2.54),
    (-3.35, -2.56), (-3.31, -2.60), (-4.42, -2.70), (-4.99, -2.79), (-3.98, -2.78), (-3.71, -2.76), (-3.69, -2.85),
    (-3.55, -2.78), (-3.51, -2.69), (-2.65, -2.63), (-2.59, -2.73), (-2.51, -2.75), (-2.25, -2.75), (-3.22, -2.75),
    (-3.20, -2.84), (-3.03, -2.77), (-3.00, -2.78), (-2.89, -2.77), (-3.28, -2.92), (-3.75, -3.02), (-3.53, -3.04),
    (-3.48, -2.99), (-3.40, -2.99), (-3.30, -3.01), (-3.24, -2.96), (-3.11, -2.97), (-3.09, -2.94), (-3.01, -2.95),
    (-2.93, -3.05), (-2.86, -2.93), (-2.83, -2.98), (-2.83, -3.04), (-3.44, -3.11), (-3.37, -3.08), (-3.18, -3.14),
    (-3.27, -3.16), (-3.03, -3.11), (-2.71, -3.13), (-2.37, -3.02), (-2.31, -3.14), (-2.26, -3.17), (-2.14, -3.24),
    (-2.62, -3.23), (-2.49, -3.23), (-2.44, -3.23), (-2.51, -3.32), (-2.46, -3.36), (-1.44, -3.06), (-1.47, -3.34),
    (-1.83, -3.32), (-0.79, -3.24), (-3.36, -3.23), (-3.32, -3.27), (-3.30, -3.29), (-3.37, -3.36), (-3.41, -3.37),
    (-3.42, -3.39), (-3.14, -3.30), (-3.05, -3.33), (-3.04, -3.37), (-2.84, -3.22), (-2.86, -3.33), (-2.86, -3.47),
    (-3.57, -3.42), (-3.19, -3.46), (-3.94, -3.46), (-3.97, -3.56), (-3.87, -3.59), (-3.67, -3.53), (-3.71, -3.60),
    (-3.33, -3.60), (-5.24, -3.24), (-5.43, -3.38), (-4.23, -3.17), (-4.30, -3.24), (-4.40, -3.37), (-4.19, -3.36),
    (-5.95, -3.68), (-3.86, -3.72), (-3.83, -3.73), (-3.79, -3.75), (-3.81, -3.81), (-3.75, -3.82), (-3.73, -3.82),
    (-3.87, -3.95), (-4.44, -3.92), (-4.16, -3.91), (-4.19, -3.97), (-3.26, -3.95), (-3.19, -3.95), (-3.05, -3.94),
    (-2.97, -4.02), (-2.84, -4.07), (-2.86, -4.16), (-3.28, -4.17), (-2.22, -3.79), (-2.22, -3.98), (-1.97, -3.93),
    (-5.55, -4.11), (-4.54, -4.07), (-4.54, -4.12), (-4.29, -4.13), (-3.90, -4.10), (-3.72, -4.08), (-4.25, -4.19),
    (-4.17, -4.19), (-4.11, -4.20), (-4.02, -4.23), (-3.94, -4.20), (-3.78, -4.19), (-3.75, -4.21), (-3.71, -4.25),
    (-3.59, -4.21), (-3.49, -4.28), (-4.60, -4.24), (-4.43, -4.21), (-5.09, -4.30), (-4.31, -4.35), (-3.94, -4.54),
    (-3.89, -4.51), (-3.53, -4.47), (-2.37, -4.49), (-4.62, -4.63), (-4.42, -4.72), (-4.13, -4.67), (-4.14, -4.78),
    (-4.27, -4.86), (-4.20, -4.87), (-4.73, -4.80), (-4.92, -4.84), (-4.90, -4.88), (-5.22, -4.86), (-5.60, -4.82),
    (-5.74, -4.78), (-5.87, -4.99), (-5.72, -5.04), (-5.27, -5.02), (-5.06, -4.99), (-5.10, -5.12), (-5.10, -5.24),
    (-5.08, -5.29), (-4.91, -5.23), (-4.88, -5.27), (-4.55, -5.13), (-4.25, -5.12), (-4.30, -5.19), (-4.07, -5.11),
    (-3.75, -5.00), (-3.57, -5.14), (-4.63, -5.34), (-5.84, -5.28), (-5.76, -5.31), (-5.70, -5.28), (-5.67, -5.27),
    (-5.54, -5.22), (-5.51, -5.24), (-5.55, -5.28), (-5.51, -5.30), (-5.37, -5.31), (-5.71, -5.50), (-5.64, -5.49),
    (-5.74, -5.62),
]

a_fit = (0.688, -1.289)
b_fit = (0.584, -1.787)
c_fit = (0.663, -1.420)
d_fit = (0.638, -1.356)

# how the dashed fit line overlaps itself: (low tail end, high tail end, sweeps over the low tail)
a_dash_split = (-4.6, None, 2)
b_dash_split = (-4.6, None, 1)
c_dash_split = (None, None, 1)
d_dash_split = (None, -2.8, 1)

# colour bar ranges and ticks
a_crange, a_cticks = (0.0024, 0.235), [0.05, 0.10, 0.15, 0.20]
b_crange, b_cticks = (0.0054, 0.252), [0.05, 0.10, 0.15, 0.20, 0.25]
c_crange, c_cticks = (0.0042, 0.2297), [0.05, 0.10, 0.15, 0.20]
d_crange, d_cticks = (0.0050, 0.2176), [0.025, 0.050, 0.075, 0.100, 0.125, 0.150, 0.175, 0.200]

a_xticks, a_yticks = [-6, -5, -4, -3, -2, -1], [-6, -5, -4, -3, -2, -1]
b_xticks, b_yticks = [-6, -5, -4, -3, -2, -1, 0, 1, 2], [-6, -5, -4, -3, -2, -1, 0, 1]
c_xticks, c_yticks = [-6, -5, -4, -3, -2, -1, 0], [-6, -5, -4, -3, -2, -1]
d_xticks, d_yticks = [-6, -5, -4, -3, -2, -1, 0], [-5, -4, -3, -2, -1]

a_stats = ["0.7323", "0.5176", "0.7932", "0.6291", "1164"]
b_stats = ["0.8041", "0.5494", "0.7314", "0.5349", "268"]
c_stats = ["0.8264", "0.6075", "0.6989", "0.4884", "386"]
d_stats = ["0.8310", "0.5813", "0.7650", "0.5853", "207"]

titles = [
    r"$\mathit{H}$. $\mathit{sapiens}$ wild-type enzymatic reaction",
    r"$\mathit{H}$. $\mathit{sapiens}$ mutant enzymatic reation",
    r"$\mathit{E}$. $\mathit{coli}$ wild-type enzymatic reaction",
    r"$\mathit{E}$.$\mathit{coli}$ mutant enzymatic reation",
]
title_x = [0.513, 0.5, 0.5, 0.5]
letters = ["A", "B", "C", "D"]

plt.rcParams["font.family"] = ["Liberation Serif", "DejaVu Serif"]
plt.rcParams["mathtext.fontset"] = "custom"
plt.rcParams["mathtext.rm"] = "Liberation Serif"
plt.rcParams["mathtext.it"] = "Liberation Serif:italic"
plt.rcParams["path.simplify"] = False

# slightly muted viridis, as in the reference
base = plt.cm.viridis(np.linspace(0, 1, 256))
lum = base[:, :3] @ np.array([0.2126, 0.7152, 0.0722])
rgb = (0.75 * base[:, :3] + 0.25 * lum[:, None]) * 0.95 + 0.03
cmap = ListedColormap(np.clip(rgb, 0, 1))


def kde_density(x, y):
    pts = np.vstack([x, y])
    n = pts.shape[1]
    cov = np.cov(pts) * n ** (-1 / 3)
    inv = np.linalg.inv(cov)
    norm = 1.0 / (2 * np.pi * np.sqrt(np.linalg.det(cov)))
    dx = pts[0][:, None] - pts[0][None, :]
    dy = pts[1][:, None] - pts[1][None, :]
    q = inv[0, 0] * dx ** 2 + 2 * inv[0, 1] * dx * dy + inv[1, 1] * dy ** 2
    return norm * np.exp(-0.5 * q).mean(axis=1)


def line_x(x, split):
    # x values in the order the fit line passes through them: the bulk in a
    # mixed (unsorted) order, the tails in sorted sweeps
    n = len(x)
    mixed = x[(np.arange(n) * 7919) % n]
    lo = -np.inf if split[0] is None else split[0]
    hi = np.inf if split[1] is None else split[1]
    low = np.sort(x[x < lo])
    parts = [low, mixed[(mixed >= lo) & (mixed <= hi)], np.sort(x[x > hi])]
    if split[2] == 2:
        parts.append(low[::-1])
    return np.concatenate(parts)


def draw_panel(fig, ax_rect, cb_rect, pts, fit, crange, cticks, cdec, xticks, yticks,
               title, tx, letter, letter_xy, stats, split):
    ax = fig.add_axes(ax_rect)
    cax = fig.add_axes(cb_rect)
    x, y = np.array(pts, dtype=float).T
    z = kde_density(x, y)
    lo, hi = crange
    z = lo + (z - z.min()) / (z.max() - z.min()) * (hi - lo)
    order = z.argsort()
    sc = ax.scatter(x[order], y[order], c=z[order], s=26, cmap=cmap, vmin=lo, vmax=hi,
                    edgecolors="none", zorder=2)
    xl = line_x(x, split)
    ax.plot(xl, fit[0] * xl + fit[1], "--", color="#ea3029", lw=4.5, zorder=3)

    ax.set_xticks(xticks)
    ax.set_yticks(yticks)
    ax.tick_params(labelsize=16, width=1.5, length=5)
    for sp in ax.spines.values():
        sp.set_linewidth(1.8)
        sp.set_color("#222222")
    ax.set_xlabel("Log10[experimental Km value]", fontsize=17)
    ax.set_ylabel("Log10[predicted Km value]", fontsize=17)
    ax.set_title(title, fontsize=24, pad=9, x=tx)

    txt = ("RMSE: %s\nMAE: %s\nPearson r: %s\n$R^2$: %s\nN: %s" % tuple(stats))
    ax.text(0.05, 0.852, txt, transform=ax.transAxes, va="top", ha="left", fontsize=14,
            family="DejaVu Sans", math_fontfamily="dejavusans", linespacing=1.17, zorder=4)

    cb = fig.colorbar(sc, cax=cax)
    cb.set_ticks(cticks)
    cb.set_ticklabels([f"{t:.{cdec}f}" for t in cticks], fontfamily="DejaVu Sans")
    cb.ax.tick_params(labelsize=11.5, width=1.5, length=5)
    cb.outline.set_linewidth(1.8)
    cb.set_label("Density Heat Level", rotation=270, fontsize=17, labelpad=29)

    fig.text(letter_xy[0], letter_xy[1], letter, fontsize=24, ha="center", va="center")
    return ax


fig = plt.figure(figsize=(16.42, 13.32), dpi=200)

draw_panel(fig, [0.0405, 0.560, 0.3487, 0.4005], [0.4108, 0.560, 0.0167, 0.4005],
           a_points, a_fit, a_crange, a_cticks, 2, a_xticks, a_yticks,
           titles[0], title_x[0], letters[0], (0.0408, 0.979), a_stats, a_dash_split)
draw_panel(fig, [0.5478, 0.5559, 0.3535, 0.4054], [0.9233, 0.5559, 0.0167, 0.4054],
           b_points, b_fit, b_crange, b_cticks, 2, b_xticks, b_yticks,
           titles[1], title_x[1], letters[1], (0.5551, 0.979), b_stats, b_dash_split)
draw_panel(fig, [0.0509, 0.0514, 0.3493, 0.4005], [0.4220, 0.0514, 0.0164, 0.4005],
           c_points, c_fit, c_crange, c_cticks, 2, c_xticks, c_yticks,
           titles[2], title_x[2], letters[2], (0.0399, 0.490), c_stats, c_dash_split)
draw_panel(fig, [0.5496, 0.0533, 0.3484, 0.4005], [0.9190, 0.0533, 0.0170, 0.4005],
           d_points, d_fit, d_crange, d_cticks, 3, d_xticks, d_yticks,
           titles[3], title_x[3], letters[3], (0.5551, 0.490), d_stats, d_dash_split)

fig.savefig("out.png", dpi=200)
